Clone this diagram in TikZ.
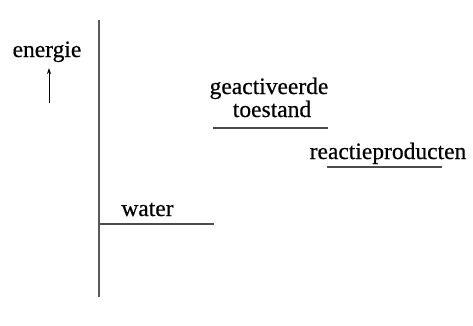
\documentclass[tikz,border=0pt]{standalone}
\usepackage{fontspec}
\setmainfont[FakeBold=0.5]{Liberation Serif}
\usetikzlibrary{arrows.meta}
\begin{document}
\begin{tikzpicture}[x=1pt,y=-1pt,
  lbl/.style={font=\fontsize{23.5}{26}\selectfont, inner sep=0pt, anchor=base},
  level/.style={draw=black!70, line width=1.1pt},
  axis/.style={draw=black!65, line width=1.3pt}]
\useasboundingbox (0,0) rectangle (473,325);
\draw[axis] (99,20) -- (99,297);
\node[lbl] (en) at (47,57) {energie};
\coordinate (a0) at (49,103);
\coordinate (a1) at (49,68);
\draw[-{Stealth[length=6pt,width=4pt]}, line width=0.8pt] (a0) -- (a1);
\node[lbl] (wa) at (147.5,216) {water};
\draw[level] (99,224) -- (214,224);
\node[lbl] (ga) at (269,94) {geactiveerde};
\node[lbl] (to) at (272,117) {toestand};
\draw[level] (213,128) -- (328,128);
\node[lbl] (re) at (388,159) {reactieproducten};
\draw[level] (327,167) -- (442,167);
\end{tikzpicture}
\end{document}
